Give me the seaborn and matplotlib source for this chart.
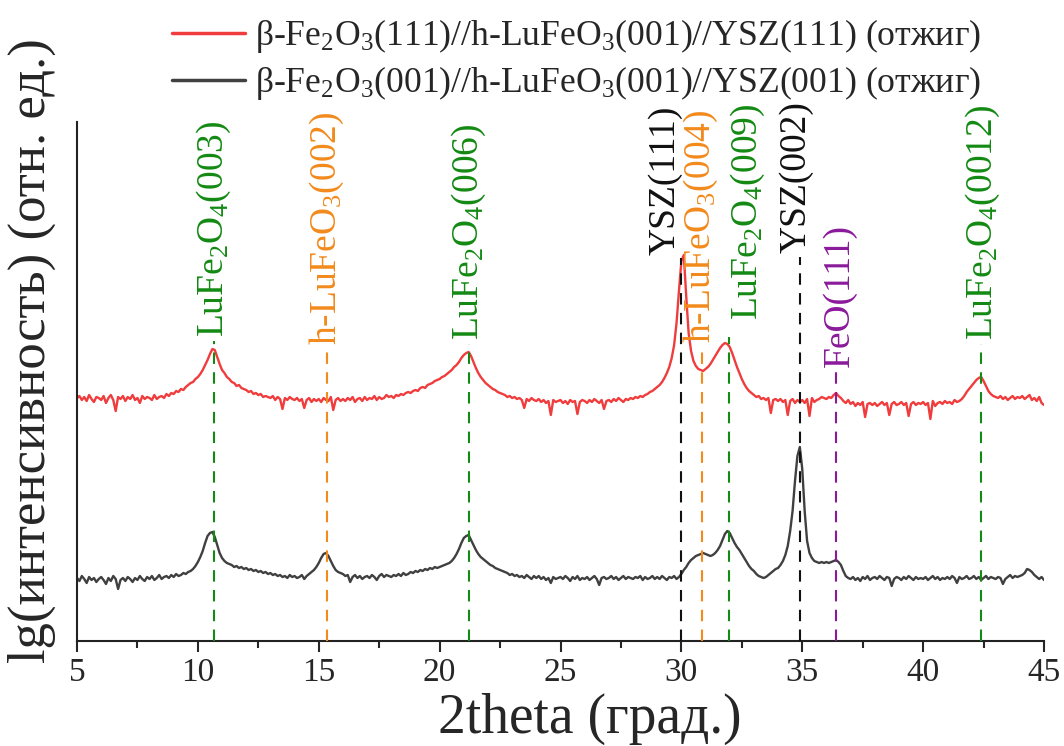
import numpy as np
import pandas as pd
import matplotlib
matplotlib.use("Agg")
import matplotlib.pyplot as plt
import seaborn as sns

# ---------------- data ----------------
theta_start = 5.0
theta_step = 0.1

red_label = "β-Fe$_2$O$_3$(111)//h-LuFeO$_3$(001)//YSZ(111) (отжиг)"
black_label = "β-Fe$_2$O$_3$(001)//h-LuFeO$_3$(001)//YSZ(001) (отжиг)"

red_intensity = [
    243, 245, 241, 244, 240, 246, 242, 239, 244, 243,
    241, 245, 238, 243, 246, 241, 230, 244, 242, 245,
    240, 244, 242, 246, 241, 243, 238, 245, 242, 244,
    243, 241, 246, 242, 244, 245, 243, 247, 245, 248,
    247, 250, 249, 252, 251, 254, 256, 258, 259, 262,
    264, 267, 271, 276, 281, 287, 292, 291, 284, 277,
    271, 268, 264, 262, 259, 258, 255, 256, 253, 252,
    251, 249, 250, 247, 248, 246, 247, 244, 245, 244,
    243, 245, 241, 244, 242, 232, 243, 241, 244, 242,
    241, 243, 240, 242, 233, 241, 243, 239, 242, 240,
    242, 239, 243, 241, 240, 244, 231, 241, 243, 240,
    242, 240, 243, 241, 244, 239, 242, 243, 240, 244,
    241, 243, 242, 245, 241, 244, 242, 243, 246, 244,
    245, 243, 246, 245, 247, 246, 248, 249, 248, 250,
    251, 250, 253, 254, 253, 256, 257, 258, 260, 261,
    262, 264, 265, 267, 269, 271, 274, 276, 279, 283,
    286, 288, 289, 285, 279, 273, 268, 264, 261, 258,
    256, 254, 252, 251, 249, 248, 247, 246, 244, 245,
    243, 244, 242, 243, 241, 233, 242, 240, 243, 241,
    240, 242, 239, 241, 238, 240, 226, 241, 239, 240,
    241, 238, 240, 237, 241, 239, 240, 227, 239, 241,
    240, 238, 241, 239, 242, 240, 238, 241, 232, 240,
    241, 239, 242, 240, 243, 241, 239, 242, 241, 243,
    242, 244, 243, 245, 244, 246, 247, 249, 250, 252,
    254, 256, 259, 263, 268, 274, 283, 296, 318, 350,
    380, 386, 345, 308, 290, 280, 275, 272, 271, 270,
    272, 274, 277, 281, 285, 289, 293, 296, 298, 297,
    294, 288, 281, 274, 268, 262, 257, 253, 250, 248,
    246, 244, 245, 242, 243, 241, 243, 228, 241, 242,
    240, 242, 239, 241, 226, 240, 242, 238, 241, 239,
    241, 238, 242, 225, 243, 239, 241, 242, 244, 243,
    242, 244, 243, 246, 248, 245, 243, 240, 238, 241,
    237, 239, 235, 238, 236, 239, 224, 237, 238, 236,
    238, 235, 237, 239, 236, 238, 226, 237, 239, 236,
    237, 239, 236, 238, 225, 237, 239, 236, 238, 237,
    239, 236, 238, 222, 240, 235, 238, 239, 237, 240,
    238, 239, 237, 241, 239, 240, 242, 245, 249, 252,
    255, 258, 261, 263, 264, 260, 255, 250, 247, 245,
    244, 243, 245, 242, 244, 241, 243, 245, 242, 244,
    243, 245, 242, 244, 246, 241, 243, 240, 244, 238,
    236,
]

black_intensity = [
    63, 60, 65, 62, 58, 64, 61, 63, 59, 62,
    64, 61, 57, 63, 60, 65, 62, 52, 61, 63,
    60, 64, 62, 59, 63, 61, 65, 62, 60, 64,
    62, 65, 61, 63, 66, 62, 64, 65, 63, 66,
    64, 67, 65, 66, 68, 67, 69, 70, 72, 75,
    79, 84, 90, 98, 105, 108, 109, 104, 96, 88,
    83, 80, 78, 77, 76, 74, 75, 73, 74, 72,
    73, 71, 72, 70, 71, 69, 70, 68, 69, 67,
    68, 66, 67, 65, 66, 64, 65, 63, 66, 64,
    65, 63, 64, 66, 62, 65, 67, 69, 71, 74,
    78, 83, 87, 88, 85, 80, 75, 71, 69, 68,
    67, 65, 66, 59, 64, 66, 63, 65, 62, 64,
    65, 63, 66, 64, 61, 65, 67, 64, 66, 65,
    64, 66, 65, 67, 65, 68, 66, 67, 69, 68,
    70, 69, 71, 70, 72, 71, 73, 72, 74, 73,
    74, 75, 76, 77, 78, 80, 83, 87, 92, 98,
    103, 105, 106, 101, 96, 91, 87, 84, 82, 80,
    78, 76, 75, 73, 72, 71, 70, 69, 68, 66,
    67, 65, 66, 64, 65, 63, 66, 64, 62, 65,
    63, 65, 62, 64, 61, 63, 58, 64, 62, 63,
    64, 62, 65, 63, 60, 64, 62, 65, 61, 63,
    62, 64, 61, 63, 65, 62, 56, 63, 64, 62,
    63, 65, 62, 64, 61, 63, 65, 62, 64, 63,
    62, 64, 63, 65, 61, 64, 62, 63, 65, 62,
    64, 62, 65, 63, 61, 64, 63, 65, 62, 64,
    67, 71, 74, 78, 81, 83, 85, 86, 87, 88,
    87, 86, 85, 86, 88, 91, 95, 101, 107, 110,
    108, 103, 98, 94, 91, 87, 83, 79, 75, 72,
    70, 67, 65, 64, 63, 64, 66, 68, 70, 72,
    73, 76, 80, 86, 95, 110, 130, 160, 185, 194,
    172, 130, 100, 88, 83, 80, 79, 78, 79, 78,
    79, 78, 79, 80, 81, 79, 76, 70, 65, 63,
    62, 64, 61, 63, 60, 64, 62, 65, 61, 63,
    64, 62, 65, 63, 61, 64, 63, 55, 62, 64,
    63, 61, 64, 62, 65, 63, 61, 64, 62, 63,
    62, 64, 61, 63, 65, 62, 64, 61, 63, 62,
    64, 62, 65, 63, 58, 64, 62, 63, 65, 62,
    63, 65, 62, 64, 61, 63, 65, 62, 64, 63,
    62, 64, 63, 57, 62, 64, 66, 63, 65, 64,
    65, 66, 68, 72, 71, 69, 66, 64, 62, 64,
    61,
]

peak_names = ["LuFe$_2$O$_4$(003)", "h-LuFeO$_3$(002)", "LuFe$_2$O$_4$(006)",
              "YSZ(111)", "h-LuFeO$_3$(004)", "LuFe$_2$O$_4$(009)",
              "YSZ(002)", "FeO(111)", "LuFe$_2$O$_4$(0012)"]
peak_positions = [10.65, 15.35, 21.2, 30.0, 30.85, 31.95, 34.9, 36.4, 42.4]
peak_phase = ["LuFe2O4", "h-LuFeO3", "LuFe2O4", "YSZ", "h-LuFeO3",
              "LuFe2O4", "YSZ", "FeO", "LuFe2O4"]

# ---------------- layout / style ----------------
phase_colors = {"LuFe2O4": "#138a13", "h-LuFeO3": "#f28a1c",
                "YSZ": "#111111", "FeO": "#8a1a9a"}
line_tops = [300, 292, 297, 383, 294, 304, 384, 270, 297]
label_bottoms = [304, 296, 301, 386, 298, 321, 388, 274, 301]
label_dx_px = [0, 0, 0, -16, -1, 19, -4, 3, 2]

W, H = 1064, 746
ax_l, ax_r, ax_t, ax_b = 77, 1044, 122, 641
serif = "Liberation Serif"

sns.set_style("ticks")
plt.rcParams["font.family"] = [serif, "DejaVu Serif"]
plt.rcParams["mathtext.fontset"] = "custom"
plt.rcParams["mathtext.rm"] = serif
plt.rcParams["mathtext.it"] = serif + ":italic"
plt.rcParams["mathtext.default"] = "regular"

fig = plt.figure(figsize=(W / 100, H / 100), dpi=100)
ax = fig.add_axes([ax_l / W, 1 - ax_b / H, (ax_r - ax_l) / W, (ax_b - ax_t) / H])

n = len(red_intensity)
two_theta = np.round(theta_start + theta_step * np.arange(n), 2)
df = pd.DataFrame({
    "2theta": np.concatenate([two_theta, two_theta]),
    "I": red_intensity + black_intensity,
    "sample": [red_label] * n + [black_label] * n,
})

sns.lineplot(data=df, x="2theta", y="I", hue="sample",
             palette=["#f03c3c", "#404040"], linewidth=1.7,
             estimator=None, sort=False, legend=False, ax=ax)

colors = [phase_colors[p] for p in peak_phase]
ax.vlines(peak_positions, 0, line_tops, colors=colors,
          linestyles=(0, (5.5, 4)), linewidth=1.5, zorder=5)

for name, pos, yb, c, dx in zip(peak_names, peak_positions, label_bottoms, colors, label_dx_px):
    ax.annotate(name, xy=(pos, yb), xytext=(dx * 0.72, 0), textcoords="offset points",
                rotation=90, ha="center", va="bottom", color=c, fontsize=27,
                family=serif, annotation_clip=False)

ax.set_xlim(5, 45)
ax.set_ylim(0, ax_b - ax_t)
ax.set_xticks(np.arange(5, 46, 5))
ax.set_xticks(np.arange(7.5, 45, 5), minor=True)
ax.set_yticks([])
ax.tick_params(axis="x", which="major", length=8, width=1.5, labelsize=24, pad=4, direction="out")
ax.tick_params(axis="x", which="minor", length=5, width=1.5, direction="out")
for s in ["top", "right"]:
    ax.spines[s].set_visible(False)
for s in ["left", "bottom"]:
    ax.spines[s].set_linewidth(1.5)
    ax.spines[s].set_color("#222222")

ax.set_xlabel("2theta (град.)", fontsize=40, family=serif)
ax.set_ylabel("lg(интенсивность) (отн. ед.)", fontsize=38, family=serif)
ax.xaxis.set_label_coords((590 - ax_l) / (ax_r - ax_l), -0.1)
ax.yaxis.set_label_coords(-0.022, 0.56)

handles = ax.get_lines()[:2]
leg = fig.legend(handles, [red_label, black_label], loc="upper left",
                 bbox_to_anchor=(168 / W, 0.982), frameon=False,
                 prop={"family": serif, "size": 25.7},
                 handlelength=2.05, handletextpad=0.3, labelspacing=0.26,
                 borderaxespad=0, borderpad=0.1)
for lh in leg.get_lines():
    lh.set_linewidth(2.5)

fig.savefig("out.png", dpi=100)
